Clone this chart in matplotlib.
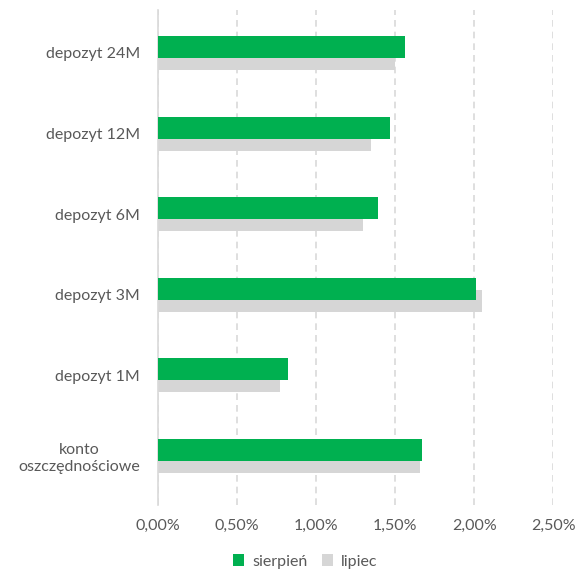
import numpy as np
import matplotlib.pyplot as plt
from matplotlib.ticker import FuncFormatter

plt.rcParams["font.family"] = ["Lato", "DejaVu Sans"]

categories = ["depozyt 24M", "depozyt 12M", "depozyt 6M", "depozyt 3M",
              "depozyt 1M", "konto\noszczędnościowe"]
sierpien = [1.56, 1.47, 1.39, 2.01, 0.82, 1.67]
lipiec = [1.50, 1.35, 1.30, 2.05, 0.77, 1.66]
xticks = [0, 0.5, 1.0, 1.5, 2.0, 2.5]

green = "#00B050"
grey = "#D6D6D6"
txt = "#595959"

fig = plt.figure(figsize=(5.81, 5.73), dpi=100)
ax = fig.add_axes([0.272, 0.1187, 0.680, 0.8638])

y = np.arange(len(categories))[::-1].astype(float)
h = 0.273
off = 0.074
ax.barh(y - off, lipiec, height=h, color=grey, zorder=2, label="lipiec")
ax.barh(y + off, sierpien, height=h, color=green, zorder=3, label="sierpień")

ax.set_xlim(0, 2.5)
ax.set_ylim(-0.608, 5.533)
ax.set_xticks(xticks)
ax.xaxis.set_major_formatter(FuncFormatter(lambda v, p: f"{v:.2f}%".replace(".", ",")))
ax.set_yticks(y)
ax.set_yticklabels(categories, multialignment="center")

ax.grid(axis="x", color="#D9D9D9", linestyle=(0, (4, 3)), linewidth=1.2, zorder=0)
for s in ["top", "right", "bottom"]:
    ax.spines[s].set_visible(False)
ax.spines["left"].set_color("#D9D9D9")
ax.spines["left"].set_linewidth(1.2)
ax.tick_params(axis="both", length=0, colors=txt, labelsize=11.5)
ax.tick_params(axis="y", pad=13)
ax.tick_params(axis="x", pad=10)

handles, labels = ax.get_legend_handles_labels()
fig.legend(handles[::-1], labels[::-1], loc="center", bbox_to_anchor=(0.525, 0.02),
           ncol=2, frameon=False, fontsize=11.5, labelcolor=txt,
           handlelength=0.7, handleheight=0.7, handletextpad=0.5, columnspacing=0.9)

fig.savefig("out.png", dpi=100)
